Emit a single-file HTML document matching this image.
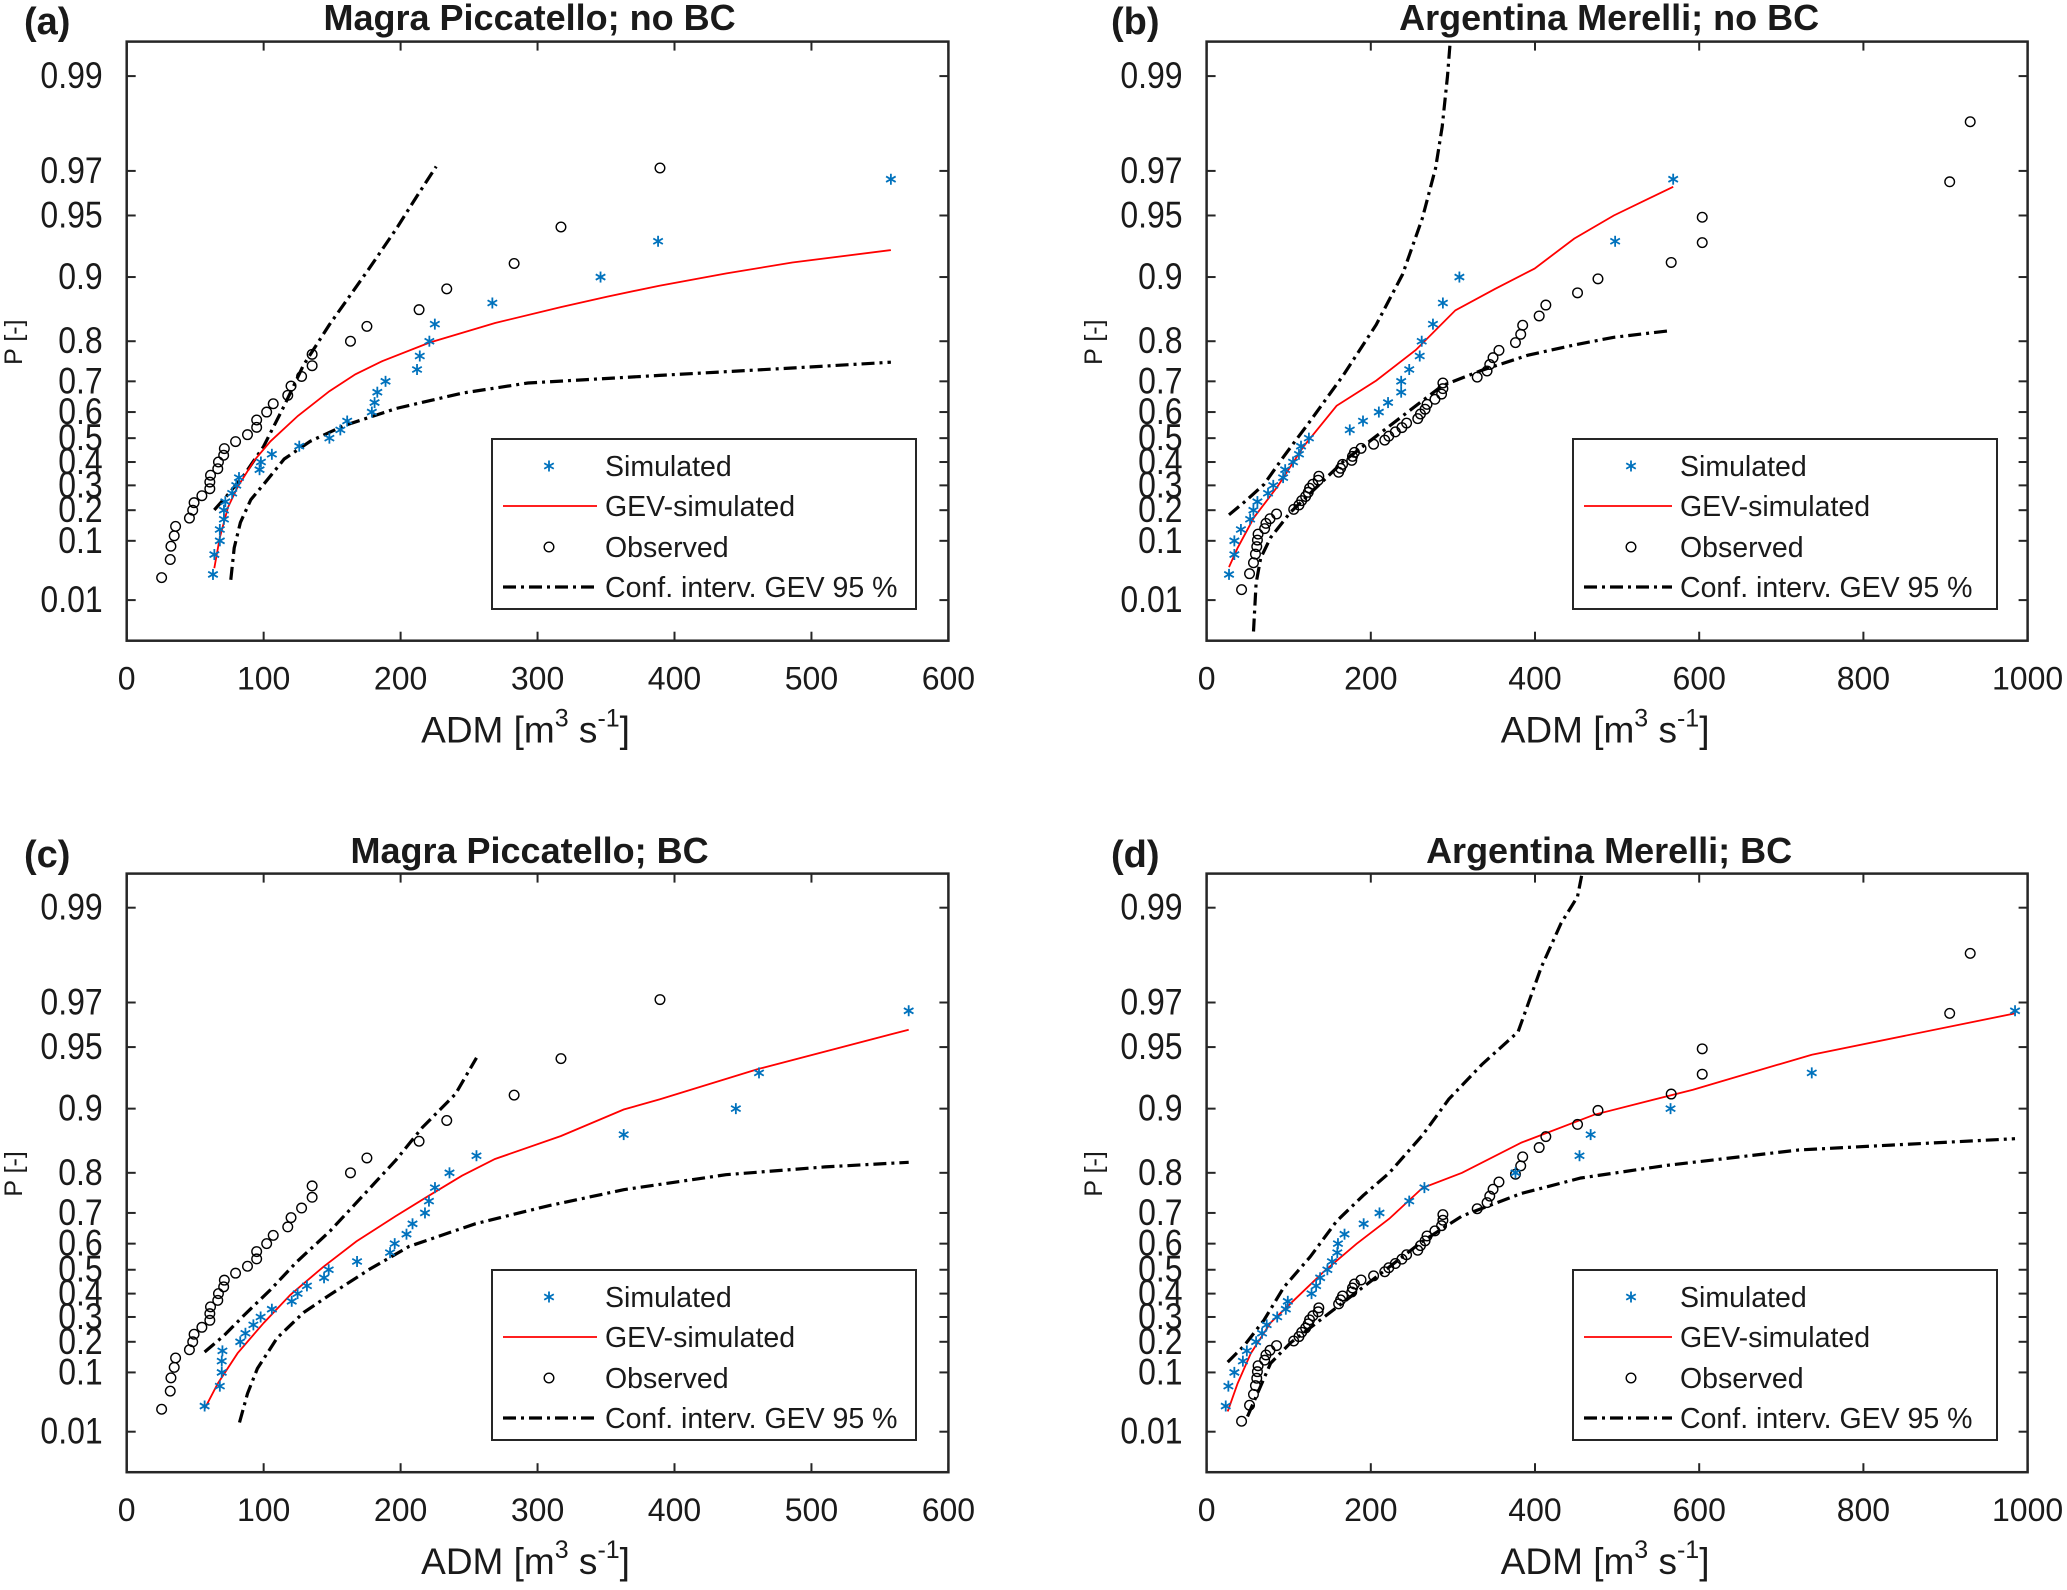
<!DOCTYPE html>
<html><head><meta charset="utf-8"><style>
html,body{margin:0;padding:0;background:#fff}
svg{display:block}
text{font-family:"Liberation Sans",Arial,sans-serif;fill:#1a1a1a}
</style></head><body>
<svg id="fig" width="2067" height="1590" viewBox="0 0 2067 1590" xmlns="http://www.w3.org/2000/svg"></svg>
<script>
// ---------- DATA ----------
// Panel (a) Magra Piccatello; no BC
const aSimX=[63,64,68,68,71,71,72,77,80,82,97,98,106,126,148,156,161,179,181,183,189,212,214,221,225,267,346,388,558];
const simP=[0.033,0.067,0.1,0.133,0.167,0.2,0.233,0.267,0.3,0.333,0.367,0.4,0.433,0.467,0.5,0.533,0.567,0.6,0.633,0.667,0.7,0.733,0.767,0.8,0.833,0.867,0.9,0.933,0.967];
const mpObsX=[25.5,31.8,32.3,34.7,35.7,45.8,48.2,49.2,54.9,60.7,60.7,61.2,66.5,67,70.8,71.3,79.5,88.2,94.9,94.9,102.2,107,117.6,120,127.7,135.4,135.4,163.4,175.4,213.5,233.7,282.9,317.1,389.4];
const mpObsP=[0.029,0.057,0.086,0.114,0.143,0.171,0.2,0.229,0.257,0.286,0.314,0.343,0.371,0.4,0.429,0.457,0.486,0.514,0.543,0.571,0.6,0.629,0.657,0.686,0.714,0.743,0.771,0.8,0.829,0.857,0.886,0.914,0.943,0.971];
const aGevX=[64,68,74,81,93,105,125,148,167,187,221,269,317,351,389,438,486,558];
const aGevP=[0.042,0.109,0.211,0.293,0.406,0.487,0.586,0.670,0.720,0.755,0.797,0.835,0.861,0.876,0.890,0.904,0.915,0.926];
const aUpX=[64,74,86,100,115,129,148,177,197,211,226];
const aUpP=[0.201,0.262,0.347,0.466,0.622,0.744,0.832,0.909,0.942,0.959,0.9715];
const aLoX=[76,78.5,83,90.6,100,115,134,158,197,245,293,389,486,558];
const aLoP=[0.0265,0.082,0.156,0.241,0.304,0.413,0.487,0.548,0.613,0.664,0.695,0.717,0.737,0.752];
// Panel (b) Argentina Merelli; no BC
const bSimX=[27.3,33.8,33.8,41.8,53,57,61.9,74.8,81.2,93.2,95.7,105.3,112.5,115,124.6,174.4,190.5,209.8,221,237,237,246.8,259.6,262,275.7,287.8,307.9,497.6,568.3];
const amObsX=[42.6,52.3,57.1,59.5,61.1,61.9,62.7,70.7,72.3,77.2,85.2,106.1,112.5,115.8,120.6,123.8,125.4,129.4,135.9,136.7,160.8,163.2,165.6,176.8,177.7,180.1,188.1,203.4,217,221.9,229.9,237.9,243.6,257.2,260.5,266.1,268.5,278.1,286.2,287.8,287.8,329.6,341.6,344.9,348.9,356.1,376.2,382.6,385,405.1,413.2,451.8,476.7,565.9,603.7,603.7,905.1,930.1];
const amObsP=[0.017,0.034,0.051,0.068,0.085,0.102,0.119,0.136,0.153,0.169,0.186,0.203,0.22,0.237,0.254,0.271,0.288,0.305,0.322,0.339,0.356,0.373,0.39,0.407,0.424,0.441,0.458,0.475,0.492,0.508,0.525,0.542,0.559,0.576,0.593,0.61,0.627,0.644,0.661,0.678,0.695,0.712,0.729,0.746,0.763,0.78,0.797,0.814,0.831,0.847,0.864,0.881,0.898,0.915,0.932,0.949,0.966,0.983];
const bGevX=[27.3,37.8,57.9,86,118.2,158.4,206.6,254.8,303,351.3,399.5,447.7,496,568.3];
const bGevP=[0.0437,0.082,0.174,0.293,0.466,0.622,0.702,0.781,0.856,0.886,0.909,0.935,0.950,0.964];
const bUpX=[27.3,45.8,69.9,94,126.2,166.4,206.6,238.7,262.9,278.9,287,293.4,296.6];
const bUpP=[0.183,0.231,0.304,0.424,0.567,0.717,0.832,0.903,0.9485,0.971,0.982,0.990,0.9932];
const bLoX=[57.1,60.3,65.9,78,102.1,134.2,166.4,206.6,246.8,287,335.2,391.5,447.7,496,564.3];
const bLoP=[0.0013,0.0227,0.06,0.109,0.192,0.293,0.402,0.508,0.604,0.687,0.731,0.769,0.792,0.808,0.821];
// Panel (c) Magra Piccatello; BC
const cSimX=[56.9,68,69.4,69.4,69.9,82.9,86.7,92.5,97.8,106,120.5,124.8,131.6,144.1,147.5,168.2,192.3,195.7,204.3,208.7,217.8,220.7,225.1,235.7,255.4,362.9,444.8,461.7,571];
const cGevX=[56.9,66.5,81,100.2,119.5,143.6,167.7,196.6,220.7,244.8,268.9,317.1,362.9,389.4,461.7,571];
const cGevP=[0.0295,0.0727,0.159,0.276,0.395,0.512,0.608,0.691,0.747,0.794,0.827,0.865,0.899,0.910,0.936,0.959];
const cUpX=[56.9,71.3,85.8,105.1,124.3,148.4,172.5,196.6,215.9,240,255.4];
const cUpP=[0.163,0.225,0.308,0.417,0.532,0.643,0.747,0.825,0.877,0.915,0.9435];
const cLoX=[82.4,88.2,95.4,109.9,129.2,148.4,177.3,206.3,254.5,307.5,362.9,437.6,509.9,571];
const cLoP=[0.016,0.0523,0.111,0.215,0.319,0.395,0.502,0.59,0.667,0.72,0.762,0.796,0.812,0.821];
// Panel (d) Argentina Merelli; BC
const dSimX=[23.3,26.5,33.8,44.2,49,60.3,67.5,73.2,86,96.5,98.9,127.8,133.4,138.3,147.1,152.7,159.2,160,168,191.3,210.6,246.8,265.3,376.2,454.2,467.8,565.1,737.1,984.7];
const dGevX=[25.7,37.8,53.9,78,110.1,142.3,182.5,222.7,262.9,311.1,383.4,471.9,592.4,737.1,984.7];
const dGevP=[0.0265,0.0727,0.159,0.276,0.384,0.491,0.599,0.683,0.766,0.80,0.855,0.893,0.919,0.9455,0.966];
const dUpX=[25.7,45.8,69.9,94,126.2,158.4,190.5,222.7,262.9,295,335.2,379.4,407.6,431.7,451.8,457.4];
const dUpP=[0.13,0.186,0.287,0.427,0.551,0.675,0.747,0.80,0.866,0.910,0.939,0.958,0.980,0.988,0.9912,0.9933];
const dLoX=[49.8,61.9,78,102.1,134.2,174.4,214.6,262.9,311.1,383.4,455.8,560.3,721,833.6,984.7];
const dLoP=[0.0212,0.0523,0.1266,0.196,0.276,0.384,0.491,0.608,0.691,0.753,0.789,0.815,0.843,0.851,0.861];
// Ticks
const yTickP=[0.01,0.1,0.2,0.3,0.4,0.5,0.6,0.7,0.8,0.9,0.95,0.97,0.99];
const yTickLabels=["0.01","0.1","0.2","0.3","0.4","0.5","0.6","0.7","0.8","0.9","0.95","0.97","0.99"];
const xTicks600=[0,100,200,300,400,500,600];
const xTicks1000=[0,200,400,600,800,1000];

// ---------- DRAW ----------
const NS="http://www.w3.org/2000/svg";
const svg=document.getElementById('fig');
function mk(tag,attrs,parent){const e=document.createElementNS(NS,tag);for(const k in attrs)e.setAttribute(k,attrs[k]);(parent||svg).appendChild(e);return e;}
const gumbel=p=>-Math.log(-Math.log(p));
const G0=gumbel(0.01), PXU=85.52;

function panel(cfg){
  const g=mk('g',{});
  
  
  const X=v=>cfg.left+(v/cfg.xmax)*(cfg.right-cfg.left);
  const Y=p=>cfg.y001-(gumbel(p)-G0)*PXU;
  const cid='clip'+cfg.id;
  const cp=mk('clipPath',{id:cid},g);
  mk('rect',{x:cfg.left,y:cfg.top,width:cfg.right-cfg.left,height:cfg.bottom-cfg.top},cp);
  yTickP.forEach((p,i)=>{
    const y=Y(p);
    const t1=mk('line',{x1:cfg.left,x2:cfg.left+9,y1:y,y2:y,stroke:'#262626','stroke-width':2},g);
    
    
    mk('line',{x1:cfg.right,x2:cfg.right-9,y1:y,y2:y,stroke:'#262626','stroke-width':2},g);
    const tx=mk('text',{x:cfg.left-24,y:y+12,'font-size':32,'text-anchor':'end',transform:'translate(0 '+(y+12)+') scale(1 1.15) translate(0 '+(-(y+12))+')'},g);
    tx.textContent=yTickLabels[i];
    
    
  });
  cfg.xticks.forEach(v=>{
    const x=X(v);
    mk('line',{x1:x,x2:x,y1:cfg.bottom,y2:cfg.bottom-9,stroke:'#262626','stroke-width':2},g);
    mk('line',{x1:x,x2:x,y1:cfg.top,y2:cfg.top+9,stroke:'#262626','stroke-width':2},g);
    const tx=mk('text',{x:x,y:cfg.bottom+49,'font-size':32,'text-anchor':'middle'},g);
    tx.textContent=String(v);
    
    
  });
  const box=mk('rect',{x:cfg.left,y:cfg.top,width:cfg.right-cfg.left,height:cfg.bottom-cfg.top,fill:'none',stroke:'#262626','stroke-width':2.5},g);
  
  
  const plot=mk('g',{'clip-path':'url(#'+cid+')'},g);
  function line(xs,ps,style,name){
    const d=xs.map((v,i)=>(i?'L':'M')+X(v).toFixed(1)+','+Y(ps[i]).toFixed(1)).join(' ');
    const e=mk('path',Object.assign({d:d,fill:'none'},style),plot);
    
    
  }
  const ci={stroke:'#000','stroke-width':3.2,'stroke-dasharray':'13,5,3,5'};
  line(cfg.up[0],cfg.up[1],ci,'conf-upper-line');
  line(cfg.lo[0],cfg.lo[1],ci,'conf-lower-line');
  line(cfg.gev[0],cfg.gev[1],{stroke:'#ff0000','stroke-width':1.8},'gev-simulated-line');
  cfg.obs[0].forEach((v,i)=>{
    const c=mk('circle',{cx:X(v),cy:Y(cfg.obs[1][i]),r:4.8,fill:'none',stroke:'#000','stroke-width':1.4},plot);
    
    
  });
  function star(cx,cy,parent){
    const s=mk('g',{stroke:'#0072BD','stroke-width':1.8},parent);
    const r=5.5;
    mk('line',{x1:cx,y1:cy-r,x2:cx,y2:cy+r},s);
    mk('line',{x1:cx-r*0.87,y1:cy-r*0.5,x2:cx+r*0.87,y2:cy+r*0.5},s);
    mk('line',{x1:cx-r*0.87,y1:cy+r*0.5,x2:cx+r*0.87,y2:cy-r*0.5},s);
    return s;
  }
  cfg.sim.forEach((v,i)=>{
    const s=star(X(v),Y(simP[i]),plot);
    
    
  });
  const tl=mk('text',{x:(cfg.left+cfg.right)/2-8,y:cfg.titleY,'font-size':36,'font-weight':'bold','text-anchor':'middle'},g);
  tl.textContent=cfg.title;
  
  
  const pl=mk('text',{x:cfg.lblX,y:cfg.titleY+4,'font-size':38,'font-weight':'bold'},g);
  pl.textContent=cfg.letter;
  
  
  const xt=mk('text',{x:(cfg.left+cfg.right)/2-12,y:cfg.bottom+102,'font-size':37,'text-anchor':'middle'},g);
  
  
  xt.innerHTML='ADM [m<tspan dy="-16" font-size="25">3</tspan><tspan dy="16"> s</tspan><tspan dy="-16" font-size="25">-1</tspan><tspan dy="16">]</tspan>';
  const cy=(cfg.top+cfg.bottom)/2+1;
  const yt=mk('text',{x:cfg.ylX,y:cy,'font-size':25,'text-anchor':'middle',transform:'rotate(-90 '+cfg.ylX+' '+cy+')'},g);
  yt.textContent='P [-]';
  
  
  const L=cfg.leg;
  const lg=mk('g',{},g);
  
  
  mk('rect',{x:L.x,y:L.y,width:L.w,height:170,fill:'#fff',stroke:'#262626','stroke-width':2},lg);
  const rows=[27,67,108,148];
  const names=['Simulated','GEV-simulated','Observed','Conf. interv. GEV 95 %'];
  rows.forEach((dy,i)=>{
    const y=L.y+dy;
    const mx=L.x+L.mk;
    if(i===0)star(mx,y,lg);
    if(i===1)mk('line',{x1:L.x+11,x2:L.x+L.tx-8,y1:y,y2:y,stroke:'#ff0000','stroke-width':1.8},lg);
    if(i===2)mk('circle',{cx:mx,cy:y,r:4.8,fill:'none',stroke:'#000','stroke-width':1.4},lg);
    if(i===3)mk('line',{x1:L.x+11,x2:L.x+L.tx-8,y1:y,y2:y,stroke:'#000','stroke-width':3.2,'stroke-dasharray':'13,5,3,5'},lg);
    const t=mk('text',{x:L.x+L.tx,y:y+10,'font-size':28.5},lg);
    t.textContent=names[i];
    
    
  });
}
const T={top:41.6,bottom:640.7,y001:600.1,titleY:30};
const B={top:873.6,bottom:1472.2,y001:1431.7,titleY:863};
panel(Object.assign({id:'a',name:'panel-a',left:126.7,right:948.4,xmax:600,xticks:xTicks600,title:'Magra Piccatello; no BC',letter:'(a)',lblX:24,ylX:22,
  sim:aSimX,obs:[mpObsX,mpObsP],gev:[aGevX,aGevP],up:[aUpX,aUpP],lo:[aLoX,aLoP],leg:{x:492,y:439,w:424,mk:57,tx:113}},T));
panel(Object.assign({id:'b',name:'panel-b',left:1206.6,right:2027.6,xmax:1000,xticks:xTicks1000,title:'Argentina Merelli; no BC',letter:'(b)',lblX:1111,ylX:1102,
  sim:bSimX,obs:[amObsX,amObsP],gev:[bGevX,bGevP],up:[bUpX,bUpP],lo:[bLoX,bLoP],leg:{x:1573,y:439,w:424,mk:58,tx:107}},T));
panel(Object.assign({id:'c',name:'panel-c',left:126.7,right:948.4,xmax:600,xticks:xTicks600,title:'Magra Piccatello; BC',letter:'(c)',lblX:24,ylX:22,
  sim:cSimX,obs:[mpObsX,mpObsP],gev:[cGevX,cGevP],up:[cUpX,cUpP],lo:[cLoX,cLoP],leg:{x:492,y:1270,w:424,mk:57,tx:113}},B));
panel(Object.assign({id:'d',name:'panel-d',left:1206.6,right:2027.6,xmax:1000,xticks:xTicks1000,title:'Argentina Merelli; BC',letter:'(d)',lblX:1111,ylX:1102,
  sim:dSimX,obs:[amObsX,amObsP],gev:[dGevX,dGevP],up:[dUpX,dUpP],lo:[dLoX,dLoP],leg:{x:1573,y:1270,w:424,mk:58,tx:107}},B));
</script>
</body></html>
